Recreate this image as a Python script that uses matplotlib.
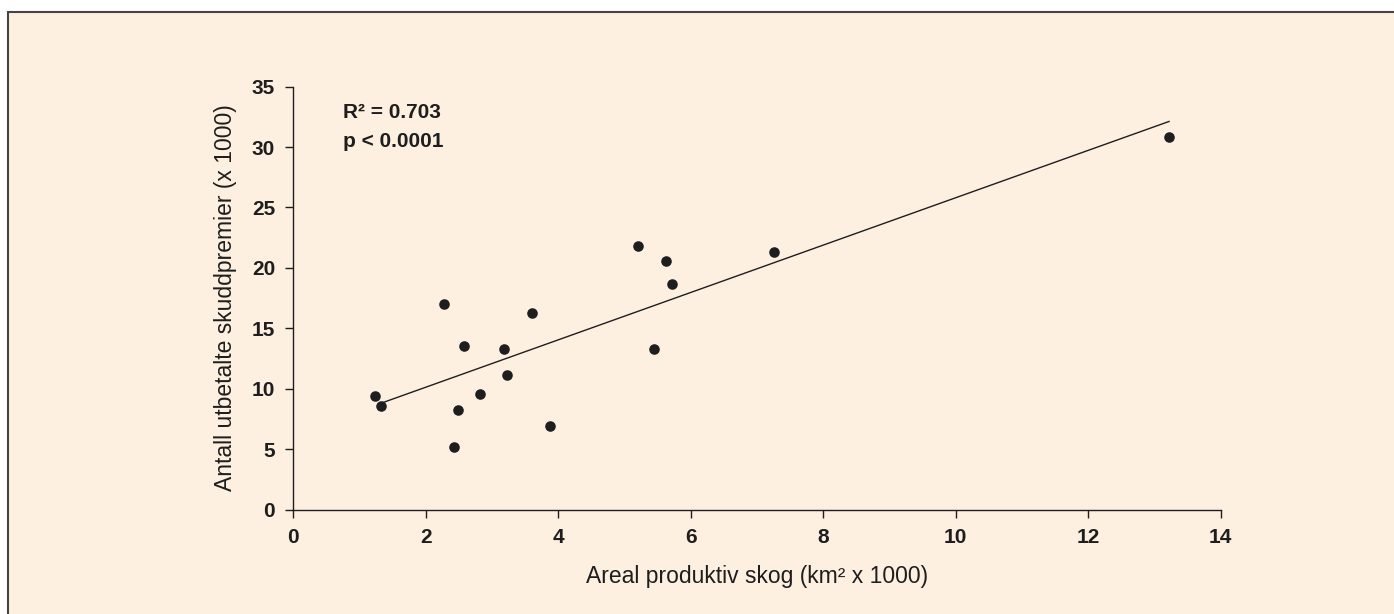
import numpy as np
import matplotlib.pyplot as plt
from matplotlib.patches import Rectangle

plt.rcParams['font.family'] = ['Liberation Sans', 'DejaVu Sans']

# areal produktiv skog (km2 x 1000) and skuddpremier (x 1000)
areal = [1.23, 1.32, 2.28, 2.58, 2.48, 2.42, 2.82, 3.18, 3.22, 3.61,
         3.88, 5.21, 5.63, 5.72, 5.44, 7.25, 13.22]
premier = [9.4, 8.6, 17.0, 13.5, 8.2, 5.2, 9.6, 13.3, 11.1, 16.3,
           6.9, 21.8, 20.6, 18.7, 13.3, 21.3, 30.8]
x_ticks = [0, 2, 4, 6, 8, 10, 12, 14]
y_ticks = [0, 5, 10, 15, 20, 25, 30, 35]

bg = '#fdf0e1'
ink = '#1e1e1e'

fig = plt.figure(figsize=(13.94, 6.14), dpi=100)
fig.patch.set_facecolor('white')
# framed panel, open to the right and bottom edges
fig.patches.append(Rectangle((8 / 1394, -0.01), 1.1, (614 - 12) / 614 + 0.01,
                             transform=fig.transFigure, facecolor=bg,
                             edgecolor='#444444', linewidth=1.5, zorder=-10))

ax = fig.add_axes([293.3 / 1394, 104.5 / 614, (1220.7 - 293.3) / 1394,
                   (509.5 - 86.7) / 614])
ax.set_facecolor('none')

x = np.array(areal)
y = np.array(premier)
k, m = np.polyfit(x, y, 1)
xs = np.array([x[1], x.max()])
ax.plot(xs, k * xs + m, color=ink, linewidth=1.0)
ax.scatter(x, y, s=58, color=ink, zorder=3, linewidths=0)

ax.set_xlim(0, 14)
ax.set_ylim(0, 35)
ax.set_xticks(x_ticks)
ax.set_yticks(y_ticks)
ax.tick_params(direction='out', length=6, width=1, color=ink,
               labelsize=15, labelcolor=ink, pad=7)
for lab in ax.get_xticklabels() + ax.get_yticklabels():
    lab.set_fontweight('bold')
for side in ['top', 'right']:
    ax.spines[side].set_visible(False)
for side in ['left', 'bottom']:
    ax.spines[side].set_color(ink)
    ax.spines[side].set_linewidth(1)

ax.set_xlabel('Areal produktiv skog (km\u00b2 x 1000)', fontsize=16.5,
              color=ink, labelpad=13)
ax.set_ylabel('Antall utbetalte skuddpremier (x 1000)', fontsize=16.5,
              color=ink, labelpad=11)

ax.text(0.75, 32.9, 'R\u00b2 = 0.703', fontsize=15, color=ink,
        fontweight='bold', va='center')
ax.text(0.75, 30.5, 'p < 0.0001', fontsize=15, color=ink,
        fontweight='bold', va='center')

fig.savefig('out.png', dpi=100, facecolor=fig.get_facecolor())
